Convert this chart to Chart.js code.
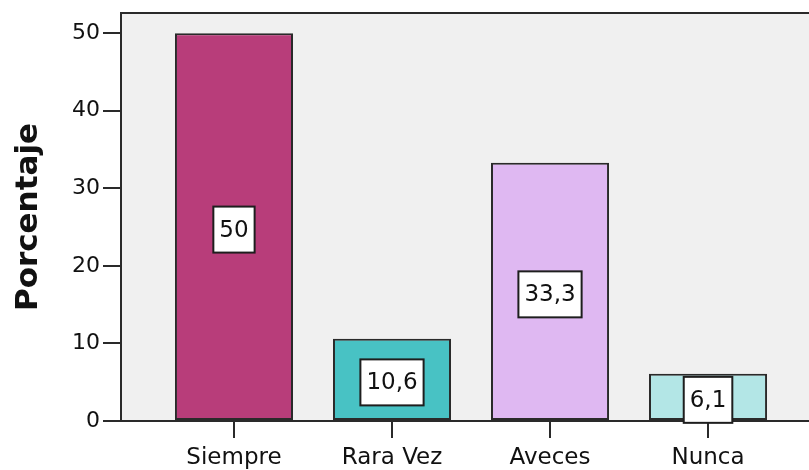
<!DOCTYPE html>
<html>
<head>
<meta charset="utf-8">
<script src="https://cdn.jsdelivr.net/npm/chart.js@4.4.1/dist/chart.umd.min.js"></script>
<style>
  html, body { margin: 0; padding: 0; background: #ffffff; overflow: hidden; }
  #wrap { width: 809px; height: 470px; }
</style>
</head>
<body>
<div id="wrap"><canvas id="c" width="809" height="470"></canvas></div>
<script>
const categories = ['Siempre', 'Rara Vez', 'Aveces', 'Nunca'];
const values = [50, 10.6, 33.3, 6.1];
const barColors = ['#B83D7A', '#48C2C4', '#DFB8F2', '#B3E6E6'];
const yTicks = [0, 10, 20, 30, 40, 50];
const yTitle = 'Porcentaje';

const FONT = '"DejaVu Sans", "Liberation Sans", Arial, sans-serif';
const LINE = '#2a2a2a';

const plotFrame = {
  id: 'plotFrame',
  beforeDraw(chart) {
    const {ctx, chartArea: a} = chart;
    ctx.save();
    ctx.fillStyle = '#F0F0F0';
    ctx.fillRect(a.left, a.top, a.right - a.left, a.bottom - a.top);
    ctx.strokeStyle = LINE;
    ctx.lineWidth = 2;
    ctx.beginPath();
    ctx.moveTo(a.left, a.top);
    ctx.lineTo(a.right, a.top);
    ctx.stroke();
    ctx.restore();
  }
};

const boxLabels = {
  id: 'boxLabels',
  afterDatasetsDraw(chart) {
    const {ctx} = chart;
    const meta = chart.getDatasetMeta(0);
    ctx.save();
    ctx.font = '23px ' + FONT;
    ctx.textAlign = 'center';
    ctx.textBaseline = 'middle';
    meta.data.forEach((bar, i) => {
      const txt = String(values[i]).replace('.', ',');
      const w = ctx.measureText(txt).width + 12;
      const h = 46;
      const cx = bar.x;
      const cy = (bar.y + bar.base) / 2 + 3;
      ctx.fillStyle = '#ffffff';
      ctx.fillRect(cx - w / 2, cy - h / 2, w, h);
      ctx.strokeStyle = '#1e1e1e';
      ctx.lineWidth = 2;
      ctx.strokeRect(cx - w / 2, cy - h / 2, w, h);
      ctx.fillStyle = '#111111';
      ctx.fillText(txt, cx, cy + 1);
    });
    ctx.restore();
  }
};

new Chart(document.getElementById('c'), {
  type: 'bar',
  data: {
    datasets: [{
      data: categories.map((c, i) => ({x: i, y: values[i]})),
      backgroundColor: barColors,
      borderColor: LINE,
      borderWidth: 2,
      borderSkipped: false,
      barPercentage: 0.747,
      categoryPercentage: 1.0
    }]
  },
  options: {
    responsive: false,
    animation: false,
    devicePixelRatio: 1,
    layout: { padding: { top: 13, right: 0, left: 0, bottom: 0 } },
    plugins: { legend: { display: false }, tooltip: { enabled: false } },
    scales: {
      x: {
        type: 'linear',
        offset: false,
        min: -0.715,
        max: 3.639,
        afterBuildTicks(scale) { scale.ticks = categories.map((c, i) => ({value: i})); },
        afterFit(scale) { scale.height = 49; scale.paddingLeft = 0; scale.paddingRight = 0; },
        grid: { offset: false, drawOnChartArea: false, drawTicks: true, tickLength: 17, color: LINE, lineWidth: 2 },
        border: { display: true, color: LINE, width: 2 },
        ticks: {
          autoSkip: false,
          maxRotation: 0,
          padding: 6,
          color: '#111111',
          font: { family: FONT, size: 23 },
          callback: (v) => categories[v] ?? ''
        }
      },
      y: {
        min: 0,
        max: 52.6,
        afterBuildTicks(scale) { scale.ticks = yTicks.map(v => ({value: v})); },
        afterFit(scale) { scale.width = 121; scale.paddingTop = 0; scale.paddingBottom = 0; },
        grid: { drawOnChartArea: false, drawTicks: true, tickLength: 18, color: LINE, lineWidth: 2 },
        border: { display: true, color: LINE, width: 2 },
        ticks: {
          padding: 3,
          color: '#111111',
          font: { family: FONT, size: 22 }
        },
        title: {
          display: true,
          text: yTitle,
          color: '#111111',
          font: { family: FONT, size: 31, weight: 'bold' },
          padding: { top: 10, bottom: 0 }
        }
      }
    }
  },
  plugins: [plotFrame, boxLabels]
});
</script>
</body>
</html>
